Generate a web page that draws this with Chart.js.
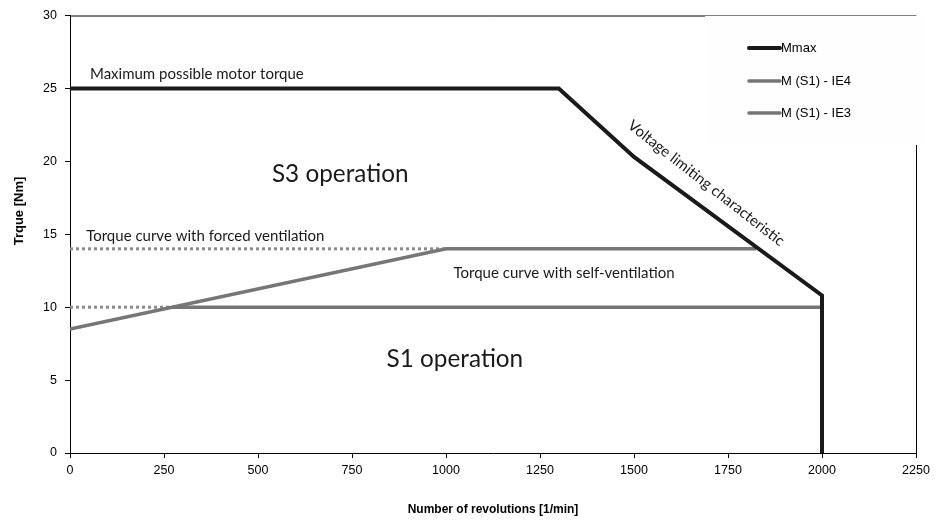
<!DOCTYPE html>
<html>
<head>
<meta charset="utf-8">
<script src="https://cdn.jsdelivr.net/npm/chart.js@4.4.1/dist/chart.umd.min.js"></script>
<style>
html,body{margin:0;padding:0;background:#fff;}
#wrap{width:951px;height:521px;position:relative;}
</style>
</head>
<body>
<div id="wrap"><canvas id="c" width="951" height="521"></canvas></div>
<script>
// ---- data ----
const mmaxX = [0, 1300, 1500, 2000, 2000];
const mmaxY = [25, 25, 20.3, 10.8, 0];
const ie4X = [0, 1000, 1825];
const ie4Y = [8.5, 14, 14];
const ie3X = [273, 2000];
const ie3Y = [10, 10];
const forcedIE4X = [0, 1000];
const forcedIE4Y = [14, 14];
const forcedIE3X = [0, 273];
const forcedIE3Y = [10, 10];
const seriesLabels = ['Mmax', 'M (S1) - IE4', 'M (S1) - IE3'];
const xTicks = [0, 250, 500, 750, 1000, 1250, 1500, 1750, 2000, 2250];
const yTicks = [0, 5, 10, 15, 20, 25, 30];
const xTitle = 'Number of revolutions [1/min]';
const yTitle = 'Trque [Nm]';
const noteTexts = ['Maximum possible motor torque', 'S3 operation', 'Torque curve with forced ventilation',
  'Torque curve with self-ventilation', 'S1 operation', 'Voltage limiting characteristic'];
const noteX = [53, 537, 43, 1020, 842, 1692];
const noteY = [26.0, 19.15, 14.86, 12.34, 6.45, 18.5];

function pts(xs, ys) { return xs.map((x, i) => ({x: x, y: ys[i]})); }

const noteStyle = [
  {size: 15, align: 'left', rot: 0},
  {size: 24.3, align: 'left', rot: 0},
  {size: 15, align: 'left', rot: 0},
  {size: 15, align: 'left', rot: 0},
  {size: 24.3, align: 'left', rot: 0},
  {size: 15, align: 'center', rot: 38}
];

const NOTE_FONT = 'Lato, "Open Sans", sans-serif';

const decor = {
  id: 'decor',
  afterDatasetsDraw(chart) {
    const ctx = chart.ctx, a = chart.chartArea;
    const xs = chart.scales.x, ys = chart.scales.y;
    ctx.save();
    // plot border top/right
    ctx.strokeStyle = '#000'; ctx.lineWidth = 1;
    ctx.beginPath();
    ctx.moveTo(a.left, a.top + 0.5); ctx.lineTo(a.right + 0.5, a.top + 0.5); ctx.lineTo(a.right + 0.5, a.bottom);
    ctx.stroke();
    // y axis title
    ctx.save();
    ctx.font = 'bold 13px Arial, "Liberation Sans", sans-serif';
    ctx.fillStyle = '#000';
    ctx.textAlign = 'center'; ctx.textBaseline = 'middle';
    ctx.translate(19, 211);
    ctx.rotate(-Math.PI / 2);
    ctx.fillText(yTitle, 0, 0);
    ctx.restore();
    // notes
    ctx.fillStyle = '#1a1a1a';
    ctx.textBaseline = 'middle';
    noteTexts.forEach((t, i) => {
      const st = noteStyle[i];
      const px = xs.getPixelForValue(noteX[i]), py = ys.getPixelForValue(noteY[i]);
      ctx.save();
      ctx.font = st.size + 'px ' + NOTE_FONT;
      ctx.textAlign = st.align;
      ctx.translate(px, py);
      ctx.rotate(st.rot * Math.PI / 180);
      ctx.fillText(t, 0, 0);
      ctx.restore();
    });
    // legend box
    ctx.fillStyle = '#fefefe';
    ctx.fillRect(705, 16, 220, 129);
    const rows = [48, 81, 113];
    ctx.font = '13px Arial, "Liberation Sans", sans-serif';
    ctx.textAlign = 'left';
    ctx.textBaseline = 'middle';
    for (let i = 0; i < 3; i++) {
      const ds = chart.data.datasets[i];
      ctx.strokeStyle = ds.borderColor; ctx.lineWidth = ds.borderWidth;
      ctx.lineCap = 'round';
      ctx.beginPath(); ctx.moveTo(749, rows[i]); ctx.lineTo(780, rows[i]); ctx.stroke();
      ctx.fillStyle = '#000';
      ctx.fillText(ds.label, 781, rows[i] + 0.5);
    }
    ctx.restore();
  }
};

new Chart(document.getElementById('c'), {
  type: 'line',
  data: {
    datasets: [
      {label: seriesLabels[0], data: pts(mmaxX, mmaxY), borderColor: '#1a1a1a', borderWidth: 4, pointRadius: 0, order: 0},
      {label: seriesLabels[1], data: pts(ie4X, ie4Y), borderColor: '#767676', borderWidth: 3.5, pointRadius: 0, order: 1},
      {label: seriesLabels[2], data: pts(ie3X, ie3Y), borderColor: '#767676', borderWidth: 3.5, pointRadius: 0, order: 1},
      {label: 'forced IE4', data: pts(forcedIE4X, forcedIE4Y), borderColor: '#8a8a8a', borderWidth: 3, borderDash: [3, 3], pointRadius: 0, order: 2},
      {label: 'forced IE3', data: pts(forcedIE3X, forcedIE3Y), borderColor: '#8a8a8a', borderWidth: 3, borderDash: [3, 3], pointRadius: 0, order: 2}
    ]
  },
  options: {
    responsive: false,
    animation: false,
    layout: {padding: {top: 13, right: 35, left: 0, bottom: 0}},
    plugins: {legend: {display: false}, tooltip: {enabled: false}},
    elements: {line: {tension: 0, borderCapStyle: 'butt', borderJoinStyle: 'miter'}},
    scales: {
      x: {
        type: 'linear', min: 0, max: 2250,
        afterBuildTicks: s => { s.ticks = xTicks.map(v => ({value: v})); },
        afterFit: s => { s.height = 68; },
        grid: {drawOnChartArea: false, drawTicks: true, tickLength: 5, color: '#000'},
        border: {color: '#000', width: 1},
        ticks: {color: '#000', font: {family: 'Arial', size: 12.5}, padding: 5, maxRotation: 0, callback: v => String(v)},
        title: {display: true, text: xTitle, color: '#000', font: {family: 'Arial', size: 12, weight: 'bold'}, padding: {top: 22}}
      },
      y: {
        type: 'linear', min: 0, max: 30,
        afterBuildTicks: s => { s.ticks = yTicks.map(v => ({value: v})); },
        afterFit: s => { s.width = 70; },
        grid: {drawOnChartArea: false, drawTicks: true, tickLength: 5, color: '#000'},
        border: {color: '#000', width: 1},
        ticks: {color: '#000', font: {family: 'Arial', size: 12.5}, padding: 8, callback: v => String(v)},
        title: {display: false}
      }
    }
  },
  plugins: [decor]
});
</script>
</body>
</html>
